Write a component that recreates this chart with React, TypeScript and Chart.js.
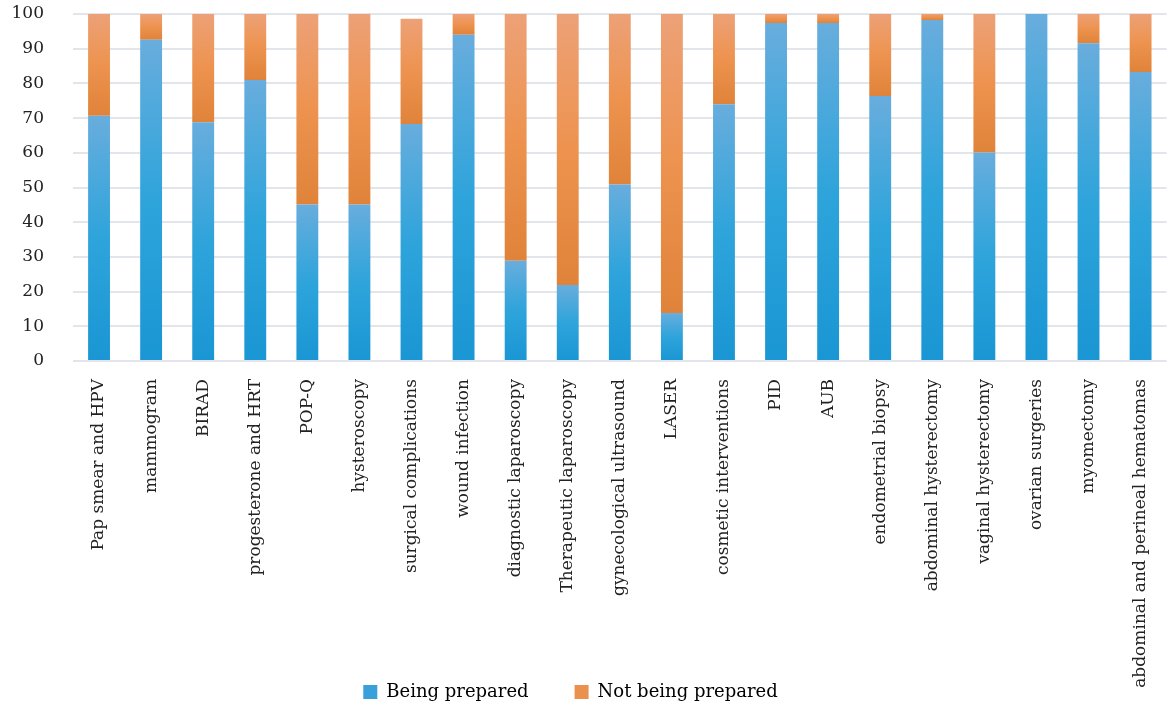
import React, { useEffect, useRef } from "react";
import { Chart, registerables } from "chart.js";

Chart.register(...registerables);

const categories = [
  "Pap smear and HPV",
  "mammogram",
  "BIRAD",
  "progesterone and HRT",
  "POP-Q",
  "hysteroscopy",
  "surgical complications",
  "wound infection",
  "diagnostic laparoscopy",
  "Therapeutic laparoscopy",
  "gynecological ultrasound",
  "LASER",
  "cosmetic interventions",
  "PID",
  "AUB",
  "endometrial biopsy",
  "abdominal hysterectomy",
  "vaginal hysterectomy",
  "ovarian surgeries",
  "myomectomy",
  "abdominal and perineal hematomas",
];

const beingPrepared = [70.7, 92.6, 68.8, 81.0, 45.1, 45.1, 68.3, 94.0, 28.9, 21.9, 50.9, 13.8, 74.0, 97.4, 97.4, 76.4, 98.3, 60.1, 100, 91.6, 83.3];
const notBeingPrepared = [29.3, 7.4, 31.2, 19.0, 54.9, 54.9, 30.3, 6.0, 71.1, 78.1, 49.1, 86.2, 26.0, 2.6, 2.6, 23.6, 1.7, 39.9, 0, 8.4, 16.7];

const yTicks = [0, 10, 20, 30, 40, 50, 60, 70, 80, 90, 100];

const seriesNames = ["Being prepared", "Not being prepared"];

const FONT = "'DejaVu Serif', serif";

const blueStops = ["#68addd", "#2ea4db", "#1a96d4"];
const orangeStops = ["#eda177", "#ed934f", "#e0833a"];

function gradientFor(dsIndex: number, stops: string[]) {
  return (ctx: any) => {
    const chart = ctx.chart;
    const y = chart.scales && chart.scales.y;
    if (!y || ctx.type !== "data") return stops[1];
    const i = ctx.dataIndex;
    const base = dsIndex === 0 ? 0 : beingPrepared[i];
    const val = dsIndex === 0 ? beingPrepared[i] : notBeingPrepared[i];
    const p0 = y.getPixelForValue(base);
    const p1 = y.getPixelForValue(base + val);
    if (!isFinite(p0) || !isFinite(p1) || p0 === p1) return stops[1];
    const g = chart.ctx.createLinearGradient(0, p1, 0, p0);
    g.addColorStop(0, stops[0]);
    g.addColorStop(0.5, stops[1]);
    g.addColorStop(1, stops[2]);
    return g;
  };
}

const layoutTweaks = {
  id: "layoutTweaks",
  afterLayout(chart: any) {
    const lg = chart.legend;
    if (lg) {
      lg.left -= 15;
      lg.right -= 15;
    }
    const xs = chart.scales.x;
    if (xs) {
      xs.bottom = chart.height;
    }
  },
};

export default function App() {
  const ref = useRef<HTMLCanvasElement | null>(null);
  useEffect(() => {
    document.body.style.margin = "0";
    const chart = new Chart(ref.current as HTMLCanvasElement, {
      type: "bar",
      data: {
        labels: categories,
        datasets: [
          {
            label: seriesNames[0],
            data: beingPrepared,
            backgroundColor: gradientFor(0, blueStops),
            barPercentage: 0.42,
            categoryPercentage: 1,
            borderWidth: 0,
          },
          {
            label: seriesNames[1],
            data: notBeingPrepared,
            backgroundColor: gradientFor(1, orangeStops),
            barPercentage: 0.42,
            categoryPercentage: 1,
            borderWidth: 0,
          },
        ],
      },
      options: {
        animation: false,
        responsive: false,
        maintainAspectRatio: false,
        layout: { padding: { top: 14, left: 0, right: 0, bottom: 0 } },
        plugins: {
          tooltip: { enabled: false },
          legend: {
            position: "bottom",
            labels: {
              font: { family: FONT, size: 18 },
              color: "#222",
              boxWidth: 14,
              boxHeight: 14,
              padding: 46,
              generateLabels: () => [
                { text: seriesNames[0], fillStyle: "#3aa0d9", strokeStyle: "#3aa0d9", lineWidth: 0, datasetIndex: 0 },
                { text: seriesNames[1], fillStyle: "#ea914f", strokeStyle: "#ea914f", lineWidth: 0, datasetIndex: 1 },
              ] as any,
            },
          },
        },
        scales: {
          x: {
            stacked: true,
            grid: { display: false },
            border: { display: false },
            ticks: {
              autoSkip: false,
              minRotation: 90,
              maxRotation: 90,
              padding: 10,
              color: "#222",
              font: { family: FONT, size: 17 },
            },
            afterFit: (scale: any) => {
              scale.height = 276;
            },
          },
          y: {
            stacked: true,
            min: 0,
            max: 100,
            afterBuildTicks: (scale: any) => {
              scale.ticks = yTicks.map((v) => ({ value: v }));
            },
            grid: { color: "#e2e5e9", lineWidth: 2, drawTicks: false },
            border: { display: false },
            ticks: {
              padding: 29,
              color: "#222",
              font: { family: FONT, size: 17 },
            },
            afterFit: (scale: any) => {
              scale.width = 73;
              scale.paddingTop = 10;
              scale.paddingBottom = 10;
            },
          },
        },
      },
      plugins: [layoutTweaks],
    });
    return () => chart.destroy();
  }, []);
  return (
    <div style={{ position: "absolute", left: 0, top: 0, width: 1171, height: 711 }}>
      <canvas ref={ref} width={1171} height={711} style={{ width: 1171, height: 711 }} />
    </div>
  );
}
